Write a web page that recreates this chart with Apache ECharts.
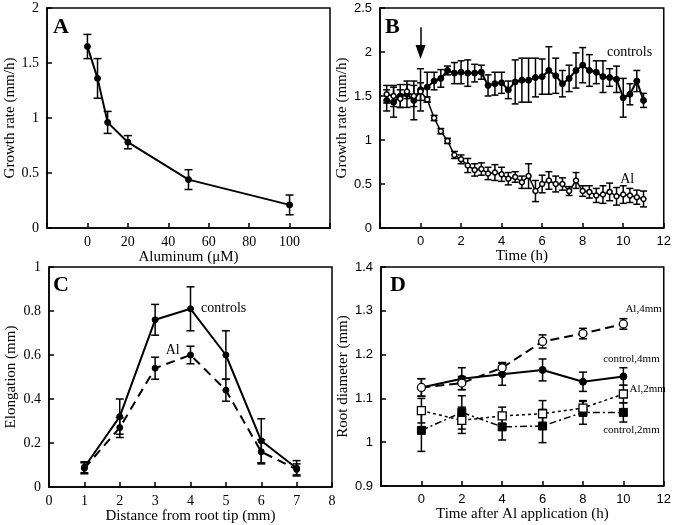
<!DOCTYPE html>
<html><head><meta charset="utf-8">
<script src="https://cdn.jsdelivr.net/npm/echarts@6/dist/echarts.min.js"></script>
<style>html,body{margin:0;padding:0;background:#fff}#c{width:674px;height:525px}</style>
</head><body><div id="c"></div>
<script>
// ---------- Panel A ----------
const aConc = [0, 5, 10, 20, 50, 100];
const aRate = [1.65, 1.36, 0.96, 0.78, 0.44, 0.21];
const aErr  = [0.11, 0.18, 0.10, 0.06, 0.09, 0.09];

// ---------- Panel B ----------
const bTime = [-1.67,-1.33,-1,-0.67,-0.33,0,0.33,0.67,1,1.33,1.67,2,2.33,2.67,3,3.33,3.67,4,4.33,4.67,5,5.33,5.67,6,6.33,6.67,7,7.33,7.67,8,8.33,8.67,9,9.33,9.67,10,10.33,10.67,11];
const bCtrl = [1.45,1.43,1.50,1.52,1.45,1.57,1.60,1.67,1.70,1.79,1.76,1.77,1.76,1.76,1.77,1.62,1.64,1.65,1.57,1.66,1.68,1.68,1.71,1.72,1.79,1.73,1.64,1.70,1.79,1.85,1.79,1.77,1.72,1.71,1.69,1.48,1.52,1.67,1.45];
const bCtrlErr = [0.12,0.17,0.13,0.15,0.22,0.24,0.17,0.10,0.10,0.05,0.12,0.13,0.15,0.10,0.08,0.12,0.13,0.12,0.10,0.25,0.25,0.25,0.22,0.20,0.27,0.20,0.15,0.15,0.20,0.20,0.18,0.13,0.18,0.10,0.15,0.22,0.12,0.12,0.08];
const bAl = [1.52,1.50,1.47,1.55,1.50,1.55,1.46,1.25,1.10,0.99,0.83,0.78,0.71,0.66,0.67,0.62,0.63,0.61,0.56,0.58,0.52,0.59,0.42,0.50,0.54,0.50,0.50,0.42,0.54,0.42,0.41,0.37,0.38,0.41,0.36,0.38,0.37,0.35,0.33];
const bAlErr = [0.10,0.12,0.10,0.08,0.12,0.10,0.03,0.03,0.03,0.03,0.04,0.05,0.08,0.07,0.07,0.07,0.09,0.08,0.07,0.06,0.07,0.14,0.12,0.10,0.10,0.09,0.07,0.05,0.09,0.06,0.07,0.08,0.10,0.10,0.10,0.10,0.08,0.08,0.09];

// ---------- Panel C ----------
const cDist = [1, 2, 3, 4, 5, 6, 7];
const cCtrl = [0.09, 0.32, 0.76, 0.81, 0.60, 0.21, 0.085];
const cCtrlErr = [0.025, 0.08, 0.07, 0.10, 0.11, 0.10, 0.035];
const cAl = [0.085, 0.27, 0.54, 0.60, 0.44, 0.16, 0.08];
const cAlErr = [0.025, 0.045, 0.05, 0.04, 0.05, 0.055, 0.025];

// ---------- Panel D ----------
const dTime = [0, 2, 4, 6, 8, 10];
const dAl4 = [1.125, 1.135, 1.17, 1.23, 1.248, 1.27];
const dAl4Err = [0.02, 0.015, 0.012, 0.015, 0.012, 0.012];
const dCtrl4 = [1.125, 1.145, 1.155, 1.165, 1.138, 1.15];
const dCtrl4Err = [0.02, 0.025, 0.025, 0.025, 0.022, 0.02];
const dAl2 = [1.072, 1.05, 1.06, 1.065, 1.078, 1.11];
const dAl2Err = [0.028, 0.03, 0.02, 0.03, 0.015, 0.02];
const dCtrl2 = [1.027, 1.068, 1.035, 1.037, 1.068, 1.068];
const dCtrl2Err = [0.048, 0.038, 0.03, 0.038, 0.027, 0.022];

// ---------- annotation texts: [panel, x, y, text, fontSize] ----------
const notes = [
  [1, 9.2, 2.0, 'controls', 14],
  [1, 9.85, 0.55, 'Al', 14],
  [2, 4.3, 0.81, 'controls', 14],
  [2, 3.3, 0.62, 'Al', 14],
  [3, 10.1, 1.305, 'Al,4mm', 11],
  [3, 9.0, 1.189, 'control,4mm', 11],
  [3, 10.3, 1.121, 'Al,2mm', 11],
  [3, 9.0, 1.027, 'control,2mm', 11]
];

const SERIF = "'Liberation Serif','Times New Roman',serif";
const SANS = "'Liberation Sans',Arial,sans-serif";

const zip = (xs, ys) => xs.map((x, i) => [x, ys[i]]);
const zip3 = (xs, ys, es) => xs.map((x, i) => [x, ys[i], es[i]]);

function errSeries(idx, xs, ys, es, cap, lw) {
  return {
    type: 'custom', xAxisIndex: idx, yAxisIndex: idx, silent: true, z: 3,
    data: zip3(xs, ys, es),
    encode: { x: 0, y: 1 },
    renderItem: function (params, api) {
      const x = api.value(0), y = api.value(1), e = api.value(2);
      const lo = api.coord([x, y - e]), hi = api.coord([x, y + e]);
      const st = { stroke: '#000', lineWidth: lw };
      return { type: 'group', children: [
        { type: 'line', shape: { x1: lo[0], y1: lo[1], x2: hi[0], y2: hi[1] }, style: st },
        { type: 'line', shape: { x1: lo[0] - cap, y1: lo[1], x2: lo[0] + cap, y2: lo[1] }, style: st },
        { type: 'line', shape: { x1: hi[0] - cap, y1: hi[1], x2: hi[0] + cap, y2: hi[1] }, style: st }
      ]};
    }
  };
}

function lineSeries(idx, xs, ys, opt) {
  return Object.assign({
    type: 'line', xAxisIndex: idx, yAxisIndex: idx, data: zip(xs, ys),
    symbol: 'circle', symbolSize: 6, z: 4,
    itemStyle: { color: '#000', borderColor: '#000', borderWidth: 1 },
    lineStyle: { color: '#000', width: 2 }
  }, opt);
}

const fmt1 = v => String(Math.round(v * 10) / 10);

function xAx(idx, min, max, interval, name, font, hideVals, nameGap, fs) {
  return {
    gridIndex: idx, type: 'value', min: min, max: max, interval: interval,
    name: name, nameLocation: 'middle', nameGap: nameGap,
    nameTextStyle: { fontFamily: SERIF, fontSize: 15, color: '#000' },
    axisLine: { onZero: false, lineStyle: { color: '#000', width: 1.5 } },
    axisTick: { inside: true, length: 5, lineStyle: { color: '#000', width: 1.5 } },
    axisLabel: { fontFamily: font, fontSize: fs, color: '#000', margin: 7,
      formatter: v => hideVals.some(h => Math.abs(h - v) < 1e-9) ? '' : fmt1(v) },
    splitLine: { show: false }
  };
}
function yAx(idx, min, max, interval, name, font, nameGap, fs) {
  return {
    gridIndex: idx, type: 'value', min: min, max: max, interval: interval,
    name: name, nameLocation: 'middle', nameGap: nameGap,
    nameTextStyle: { fontFamily: SERIF, fontSize: 15, color: '#000' },
    axisLine: { onZero: false, lineStyle: { color: '#000', width: 1.5 } },
    axisTick: { inside: true, length: 5, lineStyle: { color: '#000', width: 1.5 } },
    axisLabel: { fontFamily: font, fontSize: fs, color: '#000', margin: 8, formatter: fmt1 },
    splitLine: { show: false }
  };
}

const gridBase = { show: true, borderColor: '#000', borderWidth: 1.5, backgroundColor: 'transparent' };

const letters = [
  { type: 'text', left: 53, top: 16, style: { text: 'A', font: "bold 22px " + SERIF, fill: '#000' } },
  { type: 'text', left: 385, top: 16, style: { text: 'B', font: "bold 22px " + SERIF, fill: '#000' } },
  { type: 'text', left: 53, top: 274, style: { text: 'C', font: "bold 22px " + SERIF, fill: '#000' } },
  { type: 'text', left: 390, top: 274, style: { text: 'D', font: "bold 22px " + SERIF, fill: '#000' } }
];

const option = {
  animation: false,
  backgroundColor: '#fff',
  grid: [
    Object.assign({ left: 47, top: 8, width: 283, height: 220 }, gridBase),
    Object.assign({ left: 380, top: 8, width: 284, height: 220 }, gridBase),
    Object.assign({ left: 49, top: 267, width: 283, height: 220 }, gridBase),
    Object.assign({ left: 381, top: 267, width: 284, height: 219 }, gridBase)
  ],
  xAxis: [
    xAx(0, -20, 120, 20, 'Aluminum (\u03BCM)', SERIF, [-20, 120], 21, 14),
    xAx(1, -2, 12, 2, 'Time (h)', SANS, [-2], 17, 13),
    xAx(2, 0, 8, 1, 'Distance from root tip (mm)', SERIF, [], 19, 14),
    xAx(3, -2, 12, 2, 'Time after Al application (h)', SANS, [-2], 19, 13)
  ],
  yAxis: [
    yAx(0, 0, 2, 0.5, 'Growth rate (mm/h)', SERIF, 29, 14),
    yAx(1, 0, 2.5, 0.5, 'Growth rate (mm/h)', SANS, 25, 13),
    yAx(2, 0, 1, 0.2, 'Elongation (mm)', SERIF, 30, 14),
    yAx(3, 0.9, 1.4, 0.1, 'Root diameter (mm)', SANS, 26, 13)
  ],
  graphic: letters,
  series: [
    // A
    errSeries(0, aConc, aRate, aErr, 4, 1.5),
    lineSeries(0, aConc, aRate, {}),
    // B
    errSeries(1, bTime, bCtrl, bCtrlErr, 3.5, 1.5),
    errSeries(1, bTime, bAl, bAlErr, 3.5, 1.5),
    lineSeries(1, bTime, bCtrl, { lineStyle: { color: '#000', width: 2 },
      markLine: { silent: true, animation: false, symbol: ['none', 'triangle'], symbolSize: [10, 14],
        lineStyle: { color: '#000', width: 1.5, type: 'solid' }, label: { show: false },
        data: [[{ coord: [0, 2.28] }, { coord: [0, 2.0] }]] } }),
    lineSeries(1, bTime, bAl, { symbol: 'circle', symbolSize: 5, lineStyle: { color: '#000', width: 1.5 },
      itemStyle: { color: '#fff', borderColor: '#000', borderWidth: 1.5 } }),
    // C
    errSeries(2, cDist, cCtrl, cCtrlErr, 4, 1.5),
    errSeries(2, cDist, cAl, cAlErr, 4, 1.5),
    lineSeries(2, cDist, cCtrl, {}),
    lineSeries(2, cDist, cAl, { lineStyle: { color: '#000', width: 2, type: [9, 6] } }),
    // D
    errSeries(3, dTime, dCtrl2, dCtrl2Err, 4, 1.5),
    errSeries(3, dTime, dAl2, dAl2Err, 4, 1.5),
    errSeries(3, dTime, dCtrl4, dCtrl4Err, 4, 1.5),
    errSeries(3, dTime, dAl4, dAl4Err, 4, 1.5),
    lineSeries(3, dTime, dCtrl2, { symbol: 'rect', symbolSize: 8,
      lineStyle: { color: '#000', width: 1.5, type: [7, 3, 2, 3] } }),
    lineSeries(3, dTime, dAl2, { symbol: 'rect', symbolSize: 8,
      itemStyle: { color: '#fff', borderColor: '#000', borderWidth: 1.3 },
      lineStyle: { color: '#000', width: 1.5, type: [3, 3] } }),
    lineSeries(3, dTime, dCtrl4, { symbol: 'circle', symbolSize: 7,
      lineStyle: { color: '#000', width: 2 } }),
    lineSeries(3, dTime, dAl4, { symbol: 'circle', symbolSize: 8,
      itemStyle: { color: '#fff', borderColor: '#000', borderWidth: 1.3 },
      lineStyle: { color: '#000', width: 2, type: [9, 5] } })
  ]
};

const chart = echarts.init(document.getElementById('c'), null, { renderer: 'canvas' });
chart.setOption(option);
const noteGraphics = notes.map(n => {
  const p = chart.convertToPixel({ gridIndex: n[0] }, [n[1], n[2]]);
  return { type: 'text', x: p[0], y: p[1], z: 10,
    style: { text: n[3], font: n[4] + 'px ' + SERIF, fill: '#000', textAlign: 'left', textVerticalAlign: 'middle' } };
});
chart.setOption({ graphic: letters.concat(noteGraphics) });
</script>
</body></html>
